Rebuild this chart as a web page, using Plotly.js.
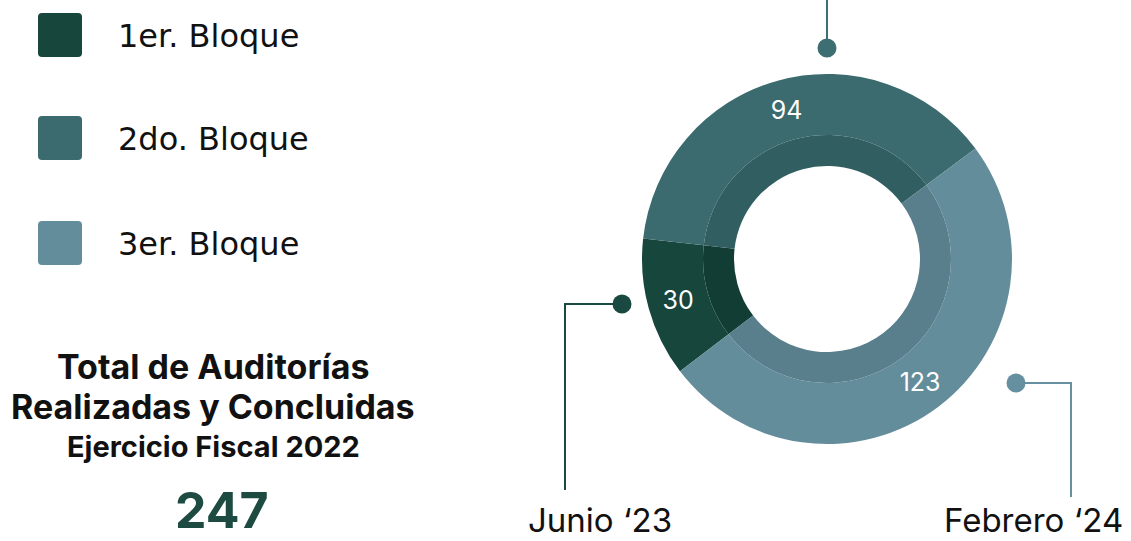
<!DOCTYPE html>
<html>
<head>
<meta charset="utf-8">
<script src="https://cdn.plot.ly/plotly-3.0.1.min.js"></script>
<style>
  html, body { margin: 0; padding: 0; background: #ffffff; }
  #chart { width: 1131px; height: 541px; }
</style>
</head>
<body>
<div id="chart"></div>
<script>
// ---- Data ----
const labels = ['1er. Bloque', '2do. Bloque', '3er. Bloque'];
const values = [30, 94, 123];
const periods = ['Junio ‘23', '', 'Febrero ‘24'];
const titleLines = ['Total de Auditorías', 'Realizadas y Concluidas', 'Ejercicio Fiscal 2022'];

// ---- Style ----
const W = 1131, H = 541;
const outerColors = ['#17463d', '#3b6b6e', '#648d9c'];
const innerColors = ['#123d35', '#305e61', '#597e8c'];
const dotColors = ['#1a4941', '#3d6e72', '#6690a0'];
const FONT = 'Inter, Roboto, "Noto Sans", sans-serif';
const LEGFONT = '"DejaVu Sans", "Noto Sans", sans-serif';

const px = x => x / W;
const py = y => 1 - y / H;

const cx = 827, cy = 259, rOuter = 185, rMid = 124, rHole = 93;

const outer = {
  type: 'pie',
  labels: labels,
  values: values,
  sort: false,
  direction: 'clockwise',
  rotation: 232.6,
  hole: rMid / rOuter,
  marker: { colors: outerColors, line: { width: 0 } },
  textinfo: 'value',
  textposition: 'inside',
  insidetextorientation: 'horizontal',
  textfont: { family: FONT, size: 25, color: '#ffffff' },
  domain: { x: [px(cx - rOuter), px(cx + rOuter)], y: [py(cy + rOuter), py(cy - rOuter)] },
  hoverinfo: 'label+value',
  showlegend: false
};

const inner = {
  type: 'pie',
  labels: labels,
  values: values,
  sort: false,
  direction: 'clockwise',
  rotation: 232.6,
  hole: rHole / rMid,
  marker: { colors: innerColors, line: { width: 0 } },
  textinfo: 'none',
  domain: { x: [px(cx - rMid), px(cx + rMid)], y: [py(cy + rMid), py(cy - rMid)] },
  hoverinfo: 'skip',
  showlegend: false
};

const shapes = [];
const annotations = [];

// Legend (rounded squares + labels)
const legendTops = [13, 116, 221];
const sq = 44, rr = 4, lx = 38;
function roundedRect(x0, y0, x1, y1, r) {
  const P = (x, y) => px(x) + ',' + py(y);
  return 'M' + P(x0 + r, y0) + ' L' + P(x1 - r, y0) + ' Q' + P(x1, y0) + ' ' + P(x1, y0 + r) +
    ' L' + P(x1, y1 - r) + ' Q' + P(x1, y1) + ' ' + P(x1 - r, y1) +
    ' L' + P(x0 + r, y1) + ' Q' + P(x0, y1) + ' ' + P(x0, y1 - r) +
    ' L' + P(x0, y0 + r) + ' Q' + P(x0, y0) + ' ' + P(x0 + r, y0) + ' Z';
}
labels.forEach((lab, i) => {
  const t = legendTops[i];
  shapes.push({
    type: 'path', xref: 'paper', yref: 'paper',
    path: roundedRect(lx, t, lx + sq, t + sq, rr),
    fillcolor: outerColors[i], line: { width: 0 }
  });
  annotations.push({
    xref: 'paper', yref: 'paper', x: px(116), y: py(t + sq / 2 + 1),
    xanchor: 'left', yanchor: 'middle', showarrow: false,
    text: lab, font: { family: LEGFONT, size: 32, color: '#111111' }
  });
});

// Title block
const titleY = [366, 406, 446];
const titleSizes = [34, 34, 29];
titleLines.forEach((t, i) => {
  annotations.push({
    xref: 'paper', yref: 'paper', x: px(213), y: py(titleY[i]),
    xanchor: 'center', yanchor: 'middle', showarrow: false,
    text: '<b>' + t + '</b>', font: { family: FONT, size: titleSizes[i], color: '#111111', weight: 800 }
  });
});
const total = values.reduce((a, b) => a + b, 0);
annotations.push({
  xref: 'paper', yref: 'paper', x: px(222), y: 0,
  xanchor: 'center', yanchor: 'bottom', showarrow: false, borderpad: 0,
  text: '<b>' + total + '</b>', font: { family: FONT, size: 50, color: '#1d4b42', weight: 800 }
});

// Leader lines, dots and period captions
const leaders = [
  { dot: [622, 304], pts: [[622, 304], [565, 304], [565, 490]], cap: [600, 520] },
  { dot: [827, 48], pts: [[827, 48], [827, 0]], cap: null },
  { dot: [1016, 383], pts: [[1016, 383], [1071, 383], [1071, 497]], cap: [1033, 520] }
];
const dotR = 9.5;
leaders.forEach((ld, i) => {
  const path = ld.pts.map((p, j) => (j ? 'L' : 'M') + px(p[0]) + ',' + py(p[1])).join(' ');
  shapes.push({ type: 'path', xref: 'paper', yref: 'paper', path: path, line: { color: dotColors[i], width: 2 } });
  shapes.push({
    type: 'circle', xref: 'paper', yref: 'paper',
    x0: px(ld.dot[0] - dotR), x1: px(ld.dot[0] + dotR),
    y0: py(ld.dot[1] + dotR), y1: py(ld.dot[1] - dotR),
    fillcolor: dotColors[i], line: { width: 0 }
  });
  if (ld.cap && periods[i]) {
    annotations.push({
      xref: 'paper', yref: 'paper', x: px(ld.cap[0]), y: py(ld.cap[1]),
      xanchor: 'center', yanchor: 'middle', showarrow: false,
      text: periods[i], font: { family: FONT, size: 33, color: '#111111' }
    });
  }
});

const layout = {
  width: W, height: H,
  margin: { l: 0, r: 0, t: 0, b: 0 },
  paper_bgcolor: '#ffffff',
  showlegend: false,
  shapes: shapes,
  annotations: annotations
};

Plotly.newPlot('chart', [outer, inner], layout, { displayModeBar: false, staticPlot: true });
</script>
</body>
</html>
